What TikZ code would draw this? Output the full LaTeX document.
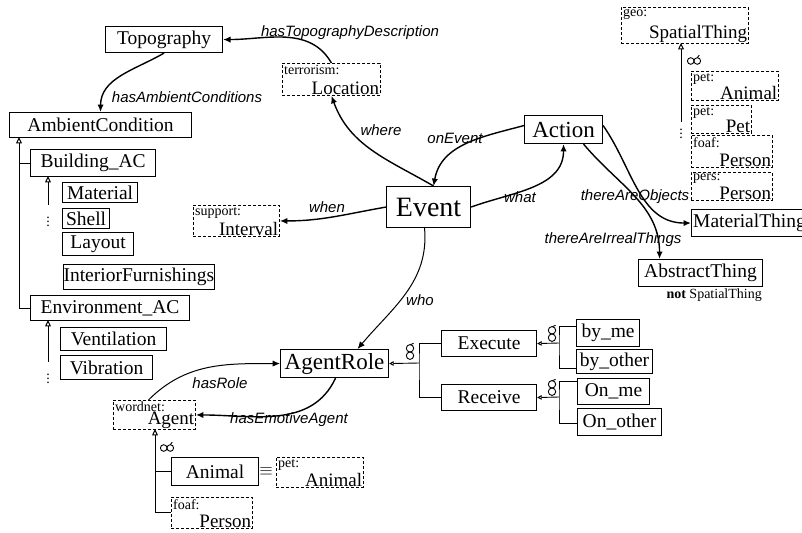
\documentclass[tikz,border=0pt]{standalone}
\usepackage{fontspec}
\setmainfont{Liberation Serif}
\setsansfont{Liberation Sans}
\usetikzlibrary{arrows.meta}

% dashed box of an outside vocabulary: prefix top left, name bottom right
\newcommand\extnode[7]{%
  \node[ext, minimum width=#4, minimum height=#5] (#1) at (#2,#3) {};
  \node[pfx] (#1-pfx) at (#1.north west) {#6};
  \node[nm] (#1-name) at (#1.south east) {#7};}

\tikzset{
  disjh/.pic={
    \draw[line width=0.9pt] (-3.3,0) circle (3.3) (3.3,0) circle (3.3);
    \draw[line width=0.9pt] (3.3,-3.3) -- (5.2,-5.8);},
  disjv/.pic={
    \draw[line width=0.9pt] (0,-3.7) circle (3.7) (0,3.7) circle (3.7);
    \draw[line width=0.9pt] (0.4,-7.4) -- (3.6,-8.6);}
}

\begin{document}
\begin{tikzpicture}[x=1pt, y=-1pt,
    cls/.style={draw, line width=1.1pt, anchor=north west, inner sep=0pt, font=\fontsize{19.5}{20}\selectfont},
    ext/.style={draw, dash pattern=on 3pt off 2pt, line width=0.9pt, anchor=north west, inner sep=0pt},
    pfx/.style={anchor=north west, inner sep=2pt, font=\fontsize{14}{14}\selectfont},
    nm/.style={anchor=south east, inner sep=1.5pt, font=\fontsize{19}{19}\selectfont},
    rel/.style={->, -{Latex[length=2.6mm, width=2.2mm]}, line width=1.4pt},
    lbl/.style={font=\sffamily\itshape\fontsize{15}{15}\selectfont},
    isa/.style={{Triangle[open, length=2.2mm, width=2mm]}-, line width=1pt},
    sub/.style={{Triangle[open, length=1.6mm, width=1.6mm]}-, line width=0.9pt},
    sym/.style={inner sep=0pt, font=\fontsize{14}{14}\selectfont}]
  \useasboundingbox (0,0) rectangle (802,532);

  % classes
  \node[cls, minimum width=117, minimum height=26] (topo) at (105,26) {Topography};
  \node[cls, minimum width=182, minimum height=25] (ambc) at (9,112) {AmbientCondition};
  \node[cls, minimum width=125, minimum height=27] (bldg) at (30,149) {Building\_AC};
  \node[cls, minimum width=75, minimum height=20] (matl) at (62,182) {Material};
  \node[cls, minimum width=47, minimum height=20] (shell) at (62,208) {Shell};
  \node[cls, minimum width=71, minimum height=23] (layout) at (62,232) {Layout};
  \node[cls, minimum width=149, minimum height=25] (interior) at (63,264) {InteriorFurnishings};
  \node[cls, minimum width=159, minimum height=25] (envr) at (30,295) {Environment\_AC};
  \node[cls, minimum width=106, minimum height=23] (vent) at (60,327) {Ventilation};
  \node[cls, minimum width=92, minimum height=24] (vibr) at (60,355) {Vibration};
  \node[cls, minimum width=84, minimum height=41, font=\fontsize{28}{28}\selectfont] (event) at (386,186) {Event};
  \node[cls, minimum width=78, minimum height=28, font=\fontsize{23}{23}\selectfont] (action) at (524,115) {Action};
  \node[cls, minimum width=116, minimum height=27] (mat) at (691,209) {MaterialThing};
  \node[cls, minimum width=124, minimum height=27] (abst) at (638,259) {AbstractThing};
  \node[anchor=north east, inner sep=0pt, font=\fontsize{14}{14}\selectfont] (notsp) at (762,289) {\textbf{not} SpatialThing};
  \node[cls, minimum width=108, minimum height=28, font=\fontsize{23}{23}\selectfont] (agrole) at (280,349) {AgentRole};
  \node[cls, minimum width=95, minimum height=26] (exec) at (441,330) {Execute};
  \node[cls, minimum width=95, minimum height=26] (recv) at (441,384) {Receive};
  \node[cls, minimum width=63, minimum height=27] (byme) at (576,319) {by\_me};
  \node[cls, minimum width=76, minimum height=24] (byother) at (576,349) {by\_other};
  \node[cls, minimum width=72, minimum height=26] (onme) at (577,378) {On\_me};
  \node[cls, minimum width=84, minimum height=27] (onother) at (577,408) {On\_other};
  \node[cls, minimum width=87, minimum height=28] (animal) at (171,457) {Animal};

  % outside vocabularies
  \extnode{loc}{282}{63}{98}{32}{terrorism:}{Location}
  \extnode{intv}{193}{205}{86}{31}{support:}{Interval}
  \extnode{spat}{621}{7}{127}{36}{geo:}{SpatialThing}
  \extnode{petanim}{691}{71}{87}{29}{pet:}{Animal}
  \extnode{petpet}{691}{105}{60}{28}{pet:}{Pet}
  \extnode{foafper}{691}{135}{81}{32}{foaf:}{Person}
  \extnode{persper}{691}{172}{81}{28}{pers:}{Person}
  \extnode{agent}{113}{400}{82}{29}{wordnet:}{Agent}
  \extnode{petanim2}{276}{457}{87}{30}{pet:}{Animal}
  \extnode{foafper2}{171}{497}{81}{31}{foaf:}{Person}

  % subclass trees
  \coordinate (acl) at (19,137);
  \draw[isa] (acl) -- (acl |- envr) -- (envr);
  \draw[line width=1pt] (acl |- bldg) -- (bldg);
  \coordinate (bl) at (48,176);
  \draw[isa] (bl) -- ++(0,29);
  \node[sym] (bdots) at (48,219) {$\vdots$};
  \coordinate (el) at (48,320);
  \draw[isa] (el) -- ++(0,42);
  \node[sym] (edots) at (48,376) {$\vdots$};
  \coordinate (sl) at (681,43);
  \draw[isa] (sl) -- ++(0,79);
  \node[sym] (sdots) at (681,131) {$\vdots$};
  \pic at (694,61) {disjh};
  \coordinate (agl) at (155,429);
  \draw[isa] (agl) -- (agl |- foafper2) -- (foafper2);
  \draw[line width=1pt] (agl |- animal) -- (animal);
  \pic at (167,448) {disjh};
  \node[sym, font=\fontsize{18}{18}\selectfont] (equiv) at (266,471) {$\equiv$};

  \coordinate (rj) at (419,363);
  \draw[sub] (agrole.east) -- (rj);
  \draw[line width=0.9pt] (exec.west) -| (rj) |- (recv.west);
  \pic at (410,352) {disjv};
  \coordinate (ej) at (559,343);
  \draw[sub] (exec.east) -- (ej);
  \draw[line width=0.9pt] ([yshift=6.5pt]byme.west) -| (ej) |- ([yshift=-7pt]byother.west);
  \pic at (552,334) {disjv};
  \coordinate (vj) at (559,397);
  \draw[sub] (recv.east) -- (vj);
  \draw[line width=0.9pt] ([yshift=10pt]onme.west) -| (vj) |- ([yshift=-1.5pt]onother.west);
  \pic at (552,388) {disjv};

  % relations
  \draw[rel] (loc.north) to[out=120, in=0] (topo.east);
  \node[lbl] (lhtd) at (350,33) {hasTopographyDescription};
  \draw[rel] (topo.south) to[out=-150, in=90] (ambc.north);
  \node[lbl] (lhac) at (187,97) {hasAmbientConditions};
  \draw[rel] ([xshift=5pt]event.north) to[out=150, in=-70] (loc.south);
  \node[lbl] (lwhere) at (381,130) {where};
  \draw[rel] ([yshift=4pt]action.west) to[out=195, in=80] ([xshift=5pt]event.north);
  \node[lbl] (lon) at (455,138) {onEvent};
  \draw[rel] (event.east) to[out=20, in=-90] (action.south);
  \node[lbl] (lwhat) at (520,197) {what};
  \draw[rel] (event.west) to[out=190, in=0] (intv.east);
  \node[lbl] (lwhen) at (327,207) {when};
  \draw[rel] ([yshift=4pt]action.east) to[out=-55, in=180] (mat.west);
  \node[lbl] (lobj) at (635,197) {thereAreObjects};
  \draw[rel] ([xshift=20pt]action.south) to[out=-50, in=90] ([xshift=-41pt]abst.north);
  \node[lbl] (lirr) at (613,240) {thereAreIrrealThings};
  \draw[rel, line width=1pt] ([xshift=-4pt]event.south) to[out=-85, in=50] ([xshift=23pt]agrole.north);
  \node[lbl] (lwho) at (420,300) {who};
  \draw[rel, line width=1pt] ([xshift=-6pt]agent.north) to[out=45, in=180] (agrole.west);
  \node[lbl] (lrole) at (220,383) {hasRole};
  \draw[rel] ([xshift=1pt]agrole.south) to[out=-115, in=0] (agent.east);
  \node[lbl] (lemo) at (289,420) {hasEmotiveAgent};
\end{tikzpicture}
\end{document}
